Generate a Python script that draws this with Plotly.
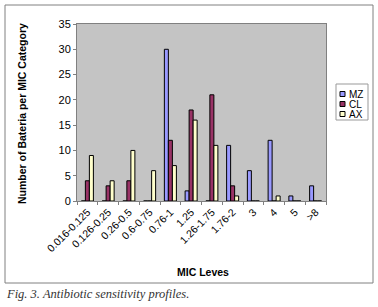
import plotly.graph_objects as go

categories = ["0.016-0.125", "0.126-0.25", "0.26-0.5", "0.6-0.75", "0.76-1", "1.25",
              "1.26-1.75", "1.76-2", "3", "4", "5", ">8"]
mz = [0, 0, 0, 0, 30, 2, 0, 11, 6, 12, 1, 3]
cl = [4, 3, 4, 0, 12, 18, 21, 3, 0, 0, 0, 0]
ax = [9, 4, 10, 6, 7, 16, 11, 1, 0, 1, 0, 0]
y_ticks = [0, 5, 10, 15, 20, 25, 30, 35]
series_names = ["MZ", "CL", "AX"]
series_colors = ["#9999FF", "#993366", "#FFFFCC"]

# plot area in pixels
L, R, T, B = 77, 326, 24, 201
W, H = R - L, B - T

def px(x):
    return (x - L) / W

def py(y):
    return (B - y) / H

fig = go.Figure()
for name, vals, col in zip(series_names, [mz, cl, ax], series_colors):
    fig.add_trace(go.Bar(x=categories, y=vals, name=name,
                         marker=dict(color=col, line=dict(color="#000000", width=1))))

fig.update_layout(
    width=378, height=307,
    margin=dict(l=L, r=378 - R, t=T, b=307 - B, autoexpand=False),
    paper_bgcolor="white", plot_bgcolor="#C4C4C4",
    barmode="group", bargap=0.42, bargroupgap=0,
    font=dict(family="Liberation Sans, Arial, sans-serif", size=10, color="#000000"),
    showlegend=False,
    xaxis=dict(type="category", tickangle=-45, ticks="outside", tickson="boundaries",
               ticklen=3, tickcolor="#808080", showline=True, linecolor="#808080", mirror=True,
               automargin=False, tickfont=dict(size=10.5)),
    yaxis=dict(range=[0, 35], tickvals=y_ticks, ticks="outside", ticklen=3, tickcolor="#808080",
               showline=True, linecolor="#808080", mirror=True, showgrid=False, zeroline=False,
               automargin=False, tickfont=dict(size=11)),
)

# axis titles
fig.add_annotation(text="<b>Number of Bateria per MIC Category</b>", xref="paper", yref="paper",
                   x=px(22), y=py(114), textangle=-90, showarrow=False,
                   xanchor="center", yanchor="middle", font=dict(size=10.5))
fig.add_annotation(text="<b>MIC Leves</b>", xref="paper", yref="paper",
                   x=px(203), y=py(272), showarrow=False,
                   xanchor="center", yanchor="middle", font=dict(size=10.5))

# outer chart border
fig.add_shape(type="rect", xref="paper", yref="paper",
              x0=px(5), x1=px(373), y0=py(283), y1=py(5),
              line=dict(color="#808080", width=1), fillcolor="rgba(0,0,0,0)", layer="below")

# legend box
fig.add_shape(type="rect", xref="paper", yref="paper",
              x0=px(336), x1=px(368), y0=py(120), y1=py(84),
              line=dict(color="#999999", width=1), fillcolor="white")
for i, (name, col) in enumerate(zip(series_names, series_colors)):
    yc = 94 + 10 * i
    fig.add_shape(type="rect", xref="paper", yref="paper",
                  x0=px(340), x1=px(345), y0=py(yc + 2.5), y1=py(yc - 2.5),
                  line=dict(color="#000000", width=1), fillcolor=col)
    fig.add_annotation(text=name, xref="paper", yref="paper", x=px(347), y=py(yc),
                       xanchor="left", yanchor="middle", showarrow=False,
                       font=dict(size=10))

fig.add_annotation(text="<i>Fig. 3. Antibiotic sensitivity profiles.</i>", xref="paper", yref="paper",
                   x=px(4), y=py(294), xanchor="left", yanchor="middle",
                   showarrow=False, font=dict(family="Liberation Serif, serif", size=12.5, color="#333333"))

fig.write_html("out.html", config={"displayModeBar": False},
               post_script="document.body.style.margin='0';")
